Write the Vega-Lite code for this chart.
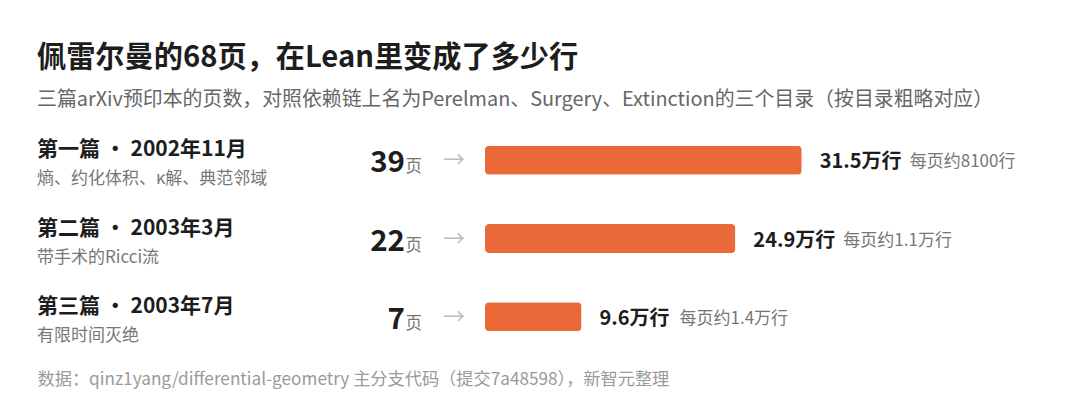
{
  "$schema": "https://vega.github.io/schema/vega-lite/v6.json",
  "background": "#ffffff",
  "padding": {"left": 37, "top": 43, "right": 20, "bottom": 20},
  "config": {"view": {"stroke": null}, "font": "Noto Sans CJK SC", "concat": {"spacing": 0}},
  "title": {
    "text": "佩雷尔曼的68页，在Lean里变成了多少行",
    "subtitle": "三篇arXiv预印本的页数，对照依赖链上名为Perelman、Surgery、Extinction的三个目录（按目录粗略对应）",
    "anchor": "start",
    "font": "Noto Sans CJK SC",
    "fontSize": 29.2,
    "fontWeight": "bold",
    "color": "#1d1d1d",
    "subtitleFont": "Noto Sans CJK SC",
    "subtitleFontSize": 19.9,
    "subtitleColor": "#666666",
    "subtitlePadding": 17,
    "offset": 11
  },
  "data": {
    "values": [
      {"label": "第一篇 · 2002年11月", "topics": "熵、约化体积、κ解、典范邻域", "pages": 39, "lines": 31.5, "valueLabel": "31.5万行", "perPage": "每页约8100行"},
      {"label": "第二篇 · 2003年3月", "topics": "带手术的Ricci流", "pages": 22, "lines": 24.9, "valueLabel": "24.9万行", "perPage": "每页约1.1万行"},
      {"label": "第三篇 · 2003年7月", "topics": "有限时间灭绝", "pages": 7, "lines": 9.6, "valueLabel": "9.6万行", "perPage": "每页约1.4万行"}
    ]
  },
  "bounds": "flush",
  "spacing": 0,
  "hconcat": [
    {
      "width": 300,
      "height": 235,
      "encoding": {
        "y": {"field": "label", "type": "nominal", "sort": null, "axis": null, "scale": {"paddingInner": 0, "paddingOuter": 0}}
      },
      "layer": [
        {
          "mark": {"type": "text", "align": "left", "baseline": "middle", "fontSize": 21, "fontWeight": "bold", "color": "#1d1d1d", "dy": -10},
          "encoding": {"x": {"value": 0}, "text": {"field": "label"}}
        },
        {
          "mark": {"type": "text", "align": "left", "baseline": "middle", "fontSize": 17, "color": "#777777", "dy": 19},
          "encoding": {"x": {"value": 0}, "text": {"field": "topics"}}
        }
      ]
    },
    {
      "width": 148,
      "height": 235,
      "encoding": {
        "y": {"field": "label", "type": "nominal", "sort": null, "axis": null, "scale": {"paddingInner": 0, "paddingOuter": 0}}
      },
      "layer": [
        {
          "mark": {"type": "text", "align": "right", "baseline": "alphabetic", "fontSize": 29.5, "fontWeight": "bold", "color": "#1d1d1d", "dx": -80, "dy": 12},
          "encoding": {"x": {"value": "width"}, "text": {"field": "pages", "type": "quantitative"}}
        },
        {
          "mark": {"type": "text", "align": "right", "baseline": "alphabetic", "fontSize": 16.5, "color": "#777777", "dx": -63, "dy": 12},
          "encoding": {"x": {"value": "width"}, "text": {"value": "页"}}
        },
        {
          "mark": {"type": "text", "align": "center", "baseline": "middle", "fontSize": 22, "color": "#bdbdbd", "dx": -31, "dy": 0},
          "encoding": {"x": {"value": "width"}, "text": {"value": "→"}}
        }
      ]
    },
    {
      "width": 555,
      "height": 235,
      "encoding": {
        "y": {"field": "label", "type": "nominal", "sort": null, "axis": null, "scale": {"paddingInner": 0, "paddingOuter": 0}},
        "x": {
          "field": "lines",
          "type": "quantitative",
          "scale": {"domain": [0, 55.2], "nice": false, "zero": true},
          "axis": {
            "labels": false, "ticks": false, "domain": false, "grid": false,
            "title": "数据：qinz1yang/differential-geometry 主分支代码（提交7a48598），新智元整理",
            "titleFont": "Noto Sans CJK SC",
            "titleFontSize": 17.2,
            "titleFontWeight": "normal",
            "titleColor": "#9a9a9a",
            "titlePadding": 14,
            "titleX": -448,
            "titleAlign": "left",
            "titleBaseline": "top"
          }
        }
      },
      "layer": [
        {
          "mark": {"type": "bar", "size": 29, "color": "#E96A38", "cornerRadius": 4}
        },
        {
          "mark": {"type": "text", "align": "left", "baseline": "middle", "fontSize": 20, "fontWeight": "bold", "color": "#1d1d1d", "dx": 18, "dy": 2},
          "encoding": {"text": {"field": "valueLabel"}}
        },
        {
          "mark": {"type": "text", "align": "left", "baseline": "middle", "fontSize": 17, "color": "#777777", "dx": {"expr": "48 + length(datum.valueLabel) * 10"}, "dy": 2},
          "encoding": {"text": {"field": "perPage"}}
        }
      ]
    }
  ]
}
